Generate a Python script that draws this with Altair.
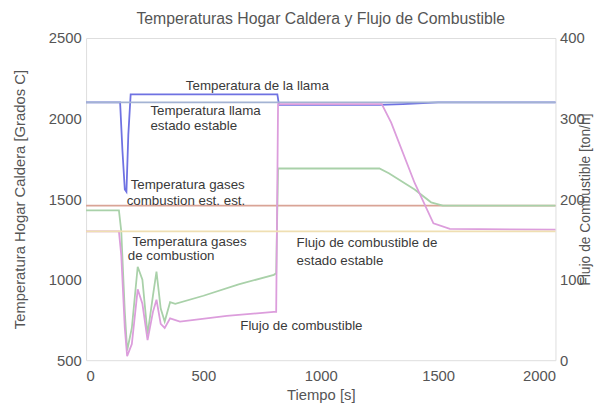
import altair as alt
import pandas as pd

chart_title = "Temperaturas Hogar Caldera y Flujo de Combustible"
x_title = "Tiempo [s]"
y_left_title = "Temperatura Hogar Caldera [Grados C]"
y_right_title = "Flujo de Combustible [ton/h]"

x_ticks = [0, 500, 1000, 1500, 2000]
left_ticks = [500, 1000, 1500, 2000, 2500]
right_ticks = [0, 100, 200, 300, 400]

series_names = [
    "Temperatura de la llama",
    "Temperatura llama estado estable",
    "Temperatura gases combustion est. est.",
    "Temperatura gases de combustion",
    "Flujo de combustible",
    "Flujo de combustible de estado estable",
]
series_colors = ["#6f72e2", "#a3b3d3", "#d9a496", "#a9d1a9", "#dc9ddc", "#efdfb2"]

# Temperatura de la llama (eje izquierdo)
flame_t = [0, 145, 155, 165, 172, 180, 190, 815, 822, 1250, 1350, 1500, 2000]
flame_v = [2100, 2100, 1800, 1560, 1545, 1900, 2150, 2150, 2085, 2085, 2090, 2100, 2100]

# Temperatura llama estado estable
flame_ss_t = [0, 2000]
flame_ss_v = [2100, 2100]

# Temperatura gases combustion estado estable
gas_ss_t = [0, 2000]
gas_ss_v = [1460, 1460]

# Temperatura gases de combustion
gas_t = [0, 140, 150, 165, 175, 195, 220, 240, 262, 285, 300, 318, 335, 358, 380, 500, 650,
         800, 810, 818, 1250, 1290, 1400, 1470, 1520, 2000]
gas_v = [1430, 1430, 1300, 800, 560, 700, 1080, 1000, 660, 900, 1050, 820, 740, 860, 850, 900, 970,
         1030, 1040, 1690, 1690, 1660, 1560, 1480, 1460, 1460]

# Flujo de combustible (eje derecho)
fuel_t = [0, 140, 150, 165, 175, 195, 220, 240, 262, 285, 300, 318, 335, 358, 400, 600,
          800, 810, 818, 1260, 1300, 1400, 1480, 1550, 2000]
fuel_v = [160, 160, 130, 40, 5, 20, 88, 70, 25, 60, 75, 45, 40, 52, 48, 55,
          60, 60, 318, 318, 295, 220, 170, 163, 162]

# Flujo de combustible de estado estable
fuel_ss_t = [0, 2000]
fuel_ss_v = [160, 160]

# Anotaciones (texto, tiempo, temperatura)
ann_text = ["Temperatura de la llama", "Temperatura llama", "estado estable",
            "Temperatura gases", "combustion est. est.",
            "Temperatura gases", "de combustion",
            "Flujo de combustible de", "estado estable",
            "Flujo de combustible"]
ann_t = [425, 274, 274, 190, 173, 198, 178, 897, 897, 657]
ann_v = [2199, 2046, 1954, 1586, 1488, 1236, 1144, 1230, 1113, 709]


def frame(name, ts, vs):
    return pd.DataFrame({"t": ts, "v": vs, "serie": name, "i": range(len(ts))})


temp_df = pd.concat([
    frame(series_names[0], flame_t, flame_v),
    frame(series_names[1], flame_ss_t, flame_ss_v),
    frame(series_names[2], gas_ss_t, gas_ss_v),
    frame(series_names[3], gas_t, gas_v),
], ignore_index=True)

flow_df = pd.concat([
    frame(series_names[4], fuel_t, fuel_v),
    frame(series_names[5], fuel_ss_t, fuel_ss_v),
], ignore_index=True)

ann_df = pd.DataFrame({"label": ann_text, "t": ann_t, "v": ann_v})

FONT = "Liberation Sans"
TXT = "#555555"
AX = "#bdbdbd"
LBL = 15
TTL = 15

color = alt.Color("serie:N", scale=alt.Scale(domain=series_names, range=series_colors), legend=None)

x_enc = alt.X("t:Q", scale=alt.Scale(domain=[0, 2000], nice=False, zero=False),
              axis=alt.Axis(title=x_title, values=x_ticks, format="d", grid=False, domain=False,
                            ticks=False, labelPadding=9, titlePadding=4, labelFontSize=LBL,
                            titleFontSize=TTL, labelColor=TXT, titleColor=TXT, labelFont=FONT,
                            titleFont=FONT, titleFontWeight="normal"))

temp_layer = alt.Chart(temp_df).mark_line(strokeWidth=1.8).encode(
    x=x_enc,
    y=alt.Y("v:Q", scale=alt.Scale(domain=[500, 2500], nice=False, zero=False),
            axis=alt.Axis(orient="left", title=y_left_title, values=left_ticks, format="d",
                          grid=False, domain=False, ticks=False, labelPadding=5, titlePadding=21,
                          labelFontSize=LBL, titleFontSize=TTL, labelColor=TXT, titleColor=TXT,
                          labelFont=FONT, titleFont=FONT, titleFontWeight="normal")),
    color=color,
    order=alt.Order("i:Q"),
)

flow_layer = alt.Chart(flow_df).mark_line(strokeWidth=1.8).encode(
    x=alt.X("t:Q"),
    y=alt.Y("v:Q", scale=alt.Scale(domain=[0, 400], nice=False, zero=False),
            axis=alt.Axis(orient="right", title=y_right_title, values=right_ticks, format="d",
                          grid=False, domain=False, ticks=False, labelPadding=4, titlePadding=8,
                          titleAngle=270,
                          labelFontSize=LBL, titleFontSize=14, labelColor=TXT, titleColor=TXT,
                          labelFont=FONT, titleFont=FONT, titleFontWeight="normal")),
    color=color,
    order=alt.Order("i:Q"),
)

text_layer = alt.Chart(ann_df).mark_text(align="left", baseline="middle", font=FONT,
                                         fontSize=13.5, color="#3a3a3a").encode(
    x=alt.X("t:Q"),
    y=alt.Y("v:Q", scale=alt.Scale(domain=[500, 2500], nice=False, zero=False), axis=None),
    text="label:N",
)

chart = alt.layer(temp_layer, flow_layer, text_layer).resolve_scale(y="independent").properties(
    width=475,
    height=326,
    autosize=alt.AutoSizeParams(type="none"),
    padding={"left": 79, "top": 28, "right": 40, "bottom": 45},
    title=alt.TitleParams(chart_title, font=FONT, fontSize=16, fontWeight="normal", color=TXT,
                          anchor="middle", offset=4),
).configure_view(stroke=AX, strokeWidth=2).configure(background="white")

chart.save("out.html", embed_options={"renderer": "svg", "actions": False})
